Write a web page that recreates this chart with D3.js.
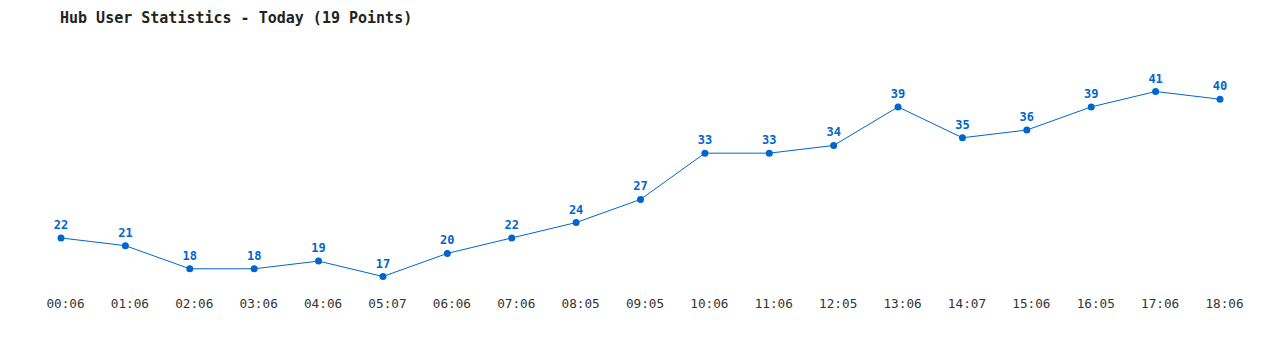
<!DOCTYPE html>
<html><head><meta charset="utf-8">
<script src="https://cdn.jsdelivr.net/npm/d3@7"></script>
<style>
html,body{margin:0;padding:0;background:#fff;}
svg{display:block;}
</style></head>
<body>
<svg id="chart" width="1280" height="350"></svg>
<script>
const title = "Hub User Statistics - Today (19 Points)";
const times = ["00:06","01:06","02:06","03:06","04:06","05:07","06:06","07:06","08:05","09:05","10:06","11:06","12:05","13:06","14:07","15:06","16:05","17:06","18:06"];
const users = [22,21,18,18,19,17,20,22,24,27,33,33,34,39,35,36,39,41,40];

const svg = d3.select("#chart");
const font = "'DejaVu Sans Mono', 'Liberation Mono', monospace";
const blue = "#0066cc";

const x = d3.scalePoint().domain(times).range([61, 1220]);
const y = d3.scaleLinear().domain([17, 41]).range([276.5, 91.5]);

svg.append("text")
  .attr("x", 60).attr("y", 23)
  .attr("font-family", font).attr("font-size", 15).attr("font-weight", "bold")
  .attr("fill", "#222").text(title);

const xAxis = d3.axisBottom(x).tickSize(0).tickPadding(0);
const gx = svg.append("g").attr("transform", "translate(0,299)").call(xAxis);
gx.select(".domain").remove();
gx.selectAll("text").attr("font-family", font).attr("font-size", 12.7).attr("fill", "#333").attr("dx", 4);

const data = times.map((t, i) => ({t, v: users[i]}));

svg.append("path").datum(data)
  .attr("fill", "none").attr("stroke", blue).attr("stroke-width", 1)
  .attr("d", d3.line().x(d => x(d.t)).y(d => y(d.v)));

svg.selectAll("circle.pt").data(data).join("circle")
  .attr("class", "pt")
  .attr("cx", d => x(d.t)).attr("cy", d => y(d.v)).attr("r", 3.5)
  .attr("fill", blue);

svg.selectAll("text.lbl").data(data).join("text")
  .attr("class", "lbl")
  .attr("x", d => x(d.t)).attr("y", d => y(d.v) - 9)
  .attr("text-anchor", "middle")
  .attr("font-family", font).attr("font-size", 12).attr("font-weight", "bold")
  .attr("fill", blue).text(d => d.v);
</script>
</body></html>
